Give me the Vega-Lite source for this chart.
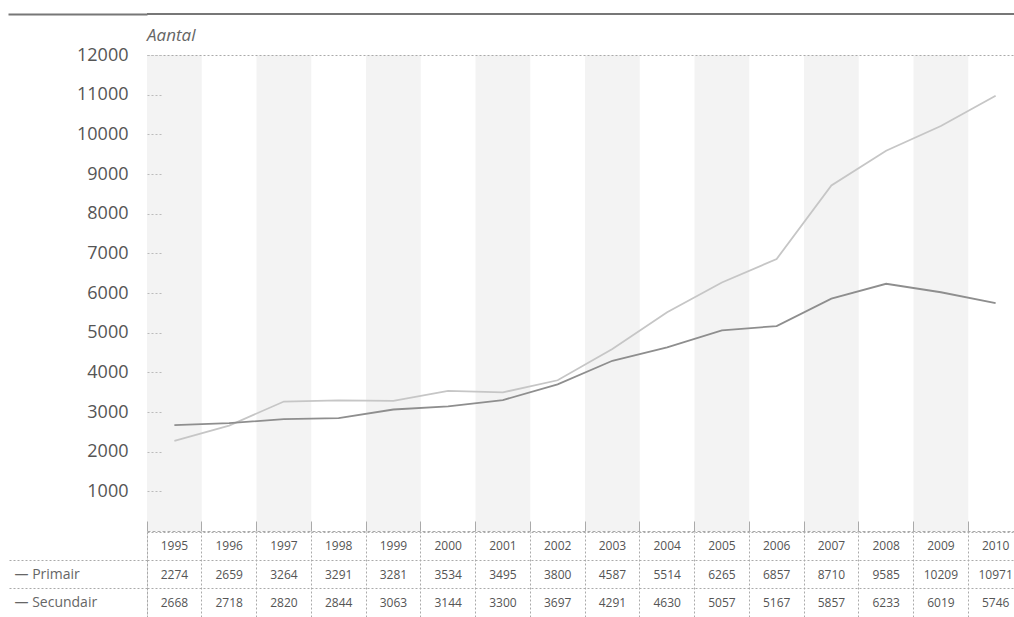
{
  "$schema": "https://vega.github.io/schema/vega-lite/v6.json",
  "padding": {"left": 6, "top": 13, "right": 0, "bottom": 0},
  "spacing": 0,
  "config": {"view": {"stroke": null}, "font": "Open Sans"},
  "resolve": {"scale": {"x": "independent", "y": "independent", "color": "independent"}},
  "datasets": {
    "d": [
      {"year": "1995", "series": "Primair", "value": 2274},
      {"year": "1996", "series": "Primair", "value": 2659},
      {"year": "1997", "series": "Primair", "value": 3264},
      {"year": "1998", "series": "Primair", "value": 3291},
      {"year": "1999", "series": "Primair", "value": 3281},
      {"year": "2000", "series": "Primair", "value": 3534},
      {"year": "2001", "series": "Primair", "value": 3495},
      {"year": "2002", "series": "Primair", "value": 3800},
      {"year": "2003", "series": "Primair", "value": 4587},
      {"year": "2004", "series": "Primair", "value": 5514},
      {"year": "2005", "series": "Primair", "value": 6265},
      {"year": "2006", "series": "Primair", "value": 6857},
      {"year": "2007", "series": "Primair", "value": 8710},
      {"year": "2008", "series": "Primair", "value": 9585},
      {"year": "2009", "series": "Primair", "value": 10209},
      {"year": "2010", "series": "Primair", "value": 10971},
      {"year": "1995", "series": "Secundair", "value": 2668},
      {"year": "1996", "series": "Secundair", "value": 2718},
      {"year": "1997", "series": "Secundair", "value": 2820},
      {"year": "1998", "series": "Secundair", "value": 2844},
      {"year": "1999", "series": "Secundair", "value": 3063},
      {"year": "2000", "series": "Secundair", "value": 3144},
      {"year": "2001", "series": "Secundair", "value": 3300},
      {"year": "2002", "series": "Secundair", "value": 3697},
      {"year": "2003", "series": "Secundair", "value": 4291},
      {"year": "2004", "series": "Secundair", "value": 4630},
      {"year": "2005", "series": "Secundair", "value": 5057},
      {"year": "2006", "series": "Secundair", "value": 5167},
      {"year": "2007", "series": "Secundair", "value": 5857},
      {"year": "2008", "series": "Secundair", "value": 6233},
      {"year": "2009", "series": "Secundair", "value": 6019},
      {"year": "2010", "series": "Secundair", "value": 5746}
    ]
  },
  "vconcat": [
    {
      "width": 867,
      "height": 32,
      "data": {"values": [{}]},
      "layer": [
        {
          "mark": {"type": "rule", "strokeWidth": 2, "color": "#777"},
          "encoding": {
            "y": {
              "datum": 1,
              "type": "quantitative",
              "scale": {"domain": [0, 1], "nice": false},
              "axis": {"values": [1], "labels": false, "domain": false, "grid": false, "tickSize": 139, "tickWidth": 2, "tickColor": "#777", "title": null, "minExtent": 141}
            }
          }
        },
        {
          "mark": {"type": "text", "text": "Aantal", "align": "left", "baseline": "alphabetic", "font": "Open Sans", "fontStyle": "italic", "fontSize": 17, "color": "#666"},
          "encoding": {
            "x": {"datum": 0, "type": "quantitative", "scale": {"domain": [0, 1]}, "axis": null},
            "y": {"datum": 0.15, "type": "quantitative"}
          }
        }
      ]
    },
    {
      "width": 867,
      "height": 476,
      "data": {"name": "d"},
      "encoding": {
        "x": {
          "field": "year",
          "type": "ordinal",
          "scale": {"type": "band", "range": [0, 876], "paddingInner": 0, "paddingOuter": 0},
          "axis": {"labels": false, "ticks": true, "tickSize": -10, "bandPosition": 0, "tickColor": "#aaa", "domain": true, "domainColor": "#aaa", "domainDash": [3, 2], "grid": false, "title": null, "minExtent": 0, "maxExtent": 0, "zindex": 1}
        }
      },
      "layer": [
        {
          "transform": [{"filter": "datum.series == 'Primair' && toNumber(datum.year) % 2 == 1"}],
          "mark": {"type": "rect", "color": "#f3f3f3"},
          "encoding": {
            "y": {
              "datum": 0,
              "type": "quantitative",
              "scale": {"domain": [0, 12000], "nice": false},
              "axis": {
                "values": [1000, 2000, 3000, 4000, 5000, 6000, 7000, 8000, 9000, 10000, 11000, 12000],
                "format": "d",
                "tickSize": -16, "tickColor": "#bbb", "tickDash": [2, 2],
                "labelPadding": 35, "labelFont": "Open Sans", "labelFontSize": 18, "labelColor": "#555",
                "domain": false, "grid": true, "gridDash": [2, 2], "gridColor": "#aaa",
                "gridOpacity": {"condition": {"test": "datum.value == 12000", "value": 1}, "value": 0},
                "title": null, "minExtent": 141, "zindex": 1
              }
            },
            "y2": {"datum": 12000}
          }
        },
        {
          "mark": {"type": "line", "strokeWidth": 1.8},
          "encoding": {
            "x": {"field": "year", "type": "ordinal", "bandPosition": 0.5},
            "y": {"field": "value", "type": "quantitative"},
            "color": {"field": "series", "type": "nominal", "scale": {"domain": ["Primair", "Secundair"], "range": ["#c6c6c6", "#8e8e8e"]}, "legend": null}
          }
        }
      ]
    },
    {
      "width": 867,
      "height": 85,
      "data": {"name": "d"},
      "encoding": {
        "x": {
          "field": "year",
          "type": "ordinal",
          "bandPosition": 0.5,
          "scale": {"type": "band", "range": [0, 876], "paddingInner": 0, "paddingOuter": 0},
          "axis": {"labels": false, "ticks": false, "domain": false, "grid": true, "bandPosition": 0, "gridDash": [2, 2], "gridColor": "#aaa", "title": null, "minExtent": 0, "maxExtent": 0}
        }
      },
      "layer": [
        {
          "transform": [{"filter": "datum.series == 'Primair'"}],
          "mark": {"type": "text", "font": "Open Sans", "fontSize": 12, "color": "#555", "clip": true},
          "encoding": {
            "y": {
              "datum": "Jaar",
              "type": "nominal",
              "bandPosition": 0.5,
              "scale": {"type": "band", "domain": ["Jaar", "Primair", "Secundair"], "paddingInner": 0, "paddingOuter": 0},
              "axis": {
                "labelExpr": "datum.value == 'Jaar' ? '' : '— ' + datum.value",
                "labelAlign": "left", "labelPadding": -5, "labelFont": "Open Sans", "labelFontSize": 14, "labelColor": "#666",
                "tickSize": 138, "bandPosition": 0, "tickDash": [2, 2], "tickColor": "#aaa",
                "tickOpacity": {"condition": {"test": "datum.value == 'Jaar'", "value": 0}, "value": 1},
                "grid": true, "gridDash": [2, 2], "gridColor": "#aaa",
                "domain": true, "domainColor": "#aaa", "domainDash": [2, 2],
                "title": null, "minExtent": 141
              }
            },
            "text": {"field": "year"}
          }
        },
        {
          "mark": {"type": "text", "font": "Open Sans", "fontSize": 12, "color": "#555", "clip": true},
          "encoding": {
            "y": {"field": "series", "type": "nominal", "bandPosition": 0.5},
            "text": {"field": "value", "type": "quantitative", "format": "d"}
          }
        }
      ]
    }
  ]
}
